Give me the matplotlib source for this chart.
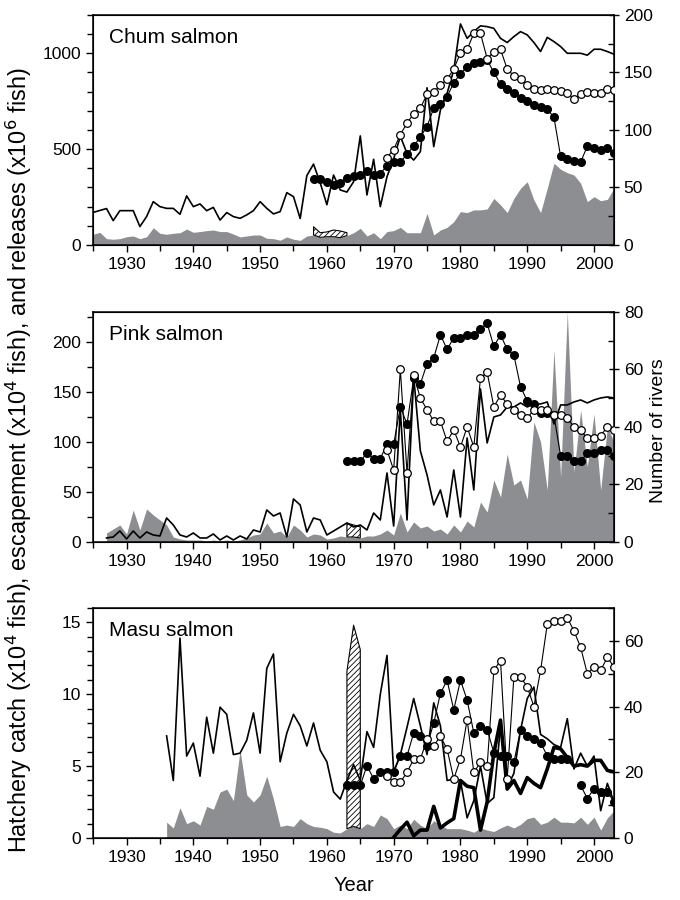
import numpy as np
import matplotlib.pyplot as plt
from matplotlib.ticker import MultipleLocator
from matplotlib import font_manager

plt.rcParams['font.family'] = ['Liberation Sans', 'DejaVu Sans']
plt.rcParams['hatch.linewidth'] = 0.6

GRAY = '#8d8e91'

# ---------------- Chum salmon ----------------
chum_start = 1925
chum_releases = [170, 180, 190, 127, 179, 179, 179, 96, 148, 226,
                 200, 191, 191, 160, 256, 200, 214, 179, 196, 130,
                 169, 148, 139, 157, 179, 226, 191, 162, 174, 273,
                 252, 138, 362, 422, 324, 210, 365, 287, 276, 330,
                 569, 261, 447, 200, 356, 450, 567, 478, 443, 487,
                 820, 513, 704, 791, 913, 1153, 1078, 1113, 1143, 1139,
                 1130, 1078, 1056, 1087, 1113, 1096, 1056, 1009, 1083, 1061,
                 1035, 1000, 1000, 1000, 990, 1021, 1021, 1009, 995]
chum_escape = [56, 66, 33, 30, 33, 43, 47, 33, 43, 90,
               61, 56, 61, 64, 83, 66, 70, 75, 78, 70,
               70, 57, 42, 47, 52, 52, 35, 33, 25, 42,
               30, 24, 47, 52, 40, 43, 43, 38, 49, 64,
               87, 47, 64, 33, 70, 75, 92, 64, 64, 64,
               165, 52, 78, 92, 122, 174, 169, 183, 183, 188,
               243, 209, 169, 243, 296, 330, 235, 169, 296, 426,
               395, 377, 365, 322, 226, 252, 231, 238, 296]
chum_hatch_years = [1958, 1959, 1960, 1961, 1962, 1963]
chum_hatch_top = [95, 64, 68, 78, 73, 64]
chum_filled_start = 1958
chum_filled = [57, 57, 55, 52, 54, 58, 60, 61, 64, 61,
               62, 69, 72, 72, 79, 86, 94, 103, 119, 123,
               129, 141, 149, 155, 158, 159, 161, 150, 140, 136,
               132, 128, 125, 122, 120, 118, 111, 77, 75, 73,
               72, 86, 84, 83, 84, 80]
chum_open_start = 1969
chum_open = [76, 83, 96, 106, 114, 119, 131, 133, 139, 144,
             153, 167, 170, 184, 184, 162, 168, 170, 153, 147,
             144, 139, 136, 135, 136, 135, 134, 132, 127, 131,
             133, 132, 132, 136, 135]

# ---------------- Pink salmon ----------------
pink_start = 1927
pink_releases = [4, 5, 11, 3, 11, 4, 10, 7, 6, 24,
                 17, 7, 5, 9, 4, 4, 8, 2, 6, 2,
                 6, 3, 12, 10, 32, 26, 29, 5, 43, 37,
                 10, 24, 22, 7, 11, 15, 19, 15, 17, 12,
                 29, 22, 69, 16, 132, 22, 165, 91, 67, 37,
                 52, 25, 72, 25, 104, 52, 153, 99, 125, 127,
                 135, 135, 139, 135, 138, 138, 140, 118, 137, 137,
                 140, 142, 139, 142, 144, 145, 144]
pink_escape = [9, 13, 17, 8, 32, 12, 33, 27, 22, 17,
               5, 3, 2, 2, 2, 1, 2, 1, 2, 1,
               2, 4, 7, 8, 19, 9, 11, 5, 17, 12,
               5, 8, 7, 3, 4, 6, 5, 5, 4, 6,
               6, 8, 12, 7, 29, 10, 20, 14, 16, 11,
               13, 8, 17, 10, 21, 15, 40, 30, 62, 45,
               88, 57, 62, 43, 120, 100, 52, 192, 65, 230,
               70, 132, 75, 128, 52, 115, 100]
pink_hatch_years = [1963, 1964, 1965]
pink_hatch_top = [19, 17, 15]
pink_filled_start = 1963
pink_filled = [28, 28, 28, 31, 29, 29, 34, 34, 47, 41,
               57, 55, 62, 64, 72, 67, 71, 71, 72, 72,
               74, 76, 68, 72, 67, 65, 54, 49, 48, 45,
               45, 44, 30, 30, 28, 28, 31, 31, 32, 32,
               30]
pink_open_start = 1969
pink_open = [32, 25, 60, 24, 58, 50, 46, 42, 42, 35,
             39, 33, 40, 33, 57, 59, 47, 51, 48, 46,
             44, 43, 46, 46, 46, 44, 44, 43, 40, 39,
             36, 36, 37, 40, 39]

# ---------------- Masu salmon ----------------
masu_start = 1936
masu_releases = [7.1, 4.0, 13.9, 5.7, 6.6, 4.3, 8.4, 5.9, 9.1, 8.6,
                 5.8, 5.9, 6.8, 8.7, 5.9, 11.8, 12.8, 5.3, 7.3, 8.6,
                 7.8, 6.4, 8.0, 6.1, 5.3, 3.2, 2.7, 4.0, 5.1, 4.0,
                 7.4, 6.3, 10.0, 12.7, 4.6, 5.8, 7.7, 9.7, 7.8, 5.8,
                 9.4, 7.8, 4.0, 4.1, 4.0, 1.4, 2.6, 5.0, 2.4, 2.8,
                 7.8, 3.5, 4.5, 7.5, 9.7, 10.5, 7.2, 6.9, 6.5, 6.3,
                 8.3, 4.8, 5.9, 5.0, 5.7, 1.9, 3.8, 2.5]
masu_escape = [1.1, 0.7, 2.1, 1.0, 1.2, 0.9, 2.2, 2.0, 3.2, 3.4,
               2.6, 6.1, 3.0, 2.5, 3.0, 4.3, 2.7, 0.8, 0.9, 0.8,
               1.35, 1.0, 0.8, 0.75, 0.65, 0.4, 0.35, 0.65, 0.8, 0.65,
               1.0, 0.8, 1.6, 1.35, 0.65, 0.9, 0.65, 1.3, 0.9, 0.65,
               1.2, 0.9, 0.65, 0.65, 0.65, 0.55, 0.4, 0.7, 0.55, 0.45,
               0.7, 0.9, 0.7, 0.95, 1.35, 1.45, 0.95, 1.1, 1.45, 1.1,
               1.1, 1.05, 1.45, 0.95, 1.45, 0.55, 1.4, 1.9]
masu_catch_start = 1970
masu_catch = [0.05, 0.6, 1.1, 0.15, 0.55, 0.55, 2.2, 0.7, 1.05, 1.35,
              4.0, 3.6, 3.5, 0.55, 2.5, 5.9, 8.2, 3.4, 4.0, 3.1,
              4.2, 3.8, 3.5, 4.8, 6.3, 6.2, 5.6, 5.0, 5.1, 5.0,
              5.4, 5.4, 4.7, 4.6]
masu_hatch_years = [1963, 1964, 1965]
masu_hatch_top = [11.6, 14.8, 13.1]
masu_filled_start = 1963
masu_filled = [16, 16, 16, 22, 18, 20, 20, 20, 25, 25,
               32, 31, 28, 35, 44, 48, 39, 48, 42, 32,
               34, 33, 26, 25, 25, 23, 33, 31, 30, 29,
               25, 24, 24, 24, np.nan, 16, 12, 15, 14, 14,
               11]
masu_open_start = 1969
masu_open = [19, 17, 17, 20, 24, 24, 30, 28, 31, 27,
             18, 24, 36, 20, 23, 22, 51, 54, 18, 49,
             49, 46, 40, 51, 65, 66, 66, 67, 63, 58,
             50, 52, 51, 55, 52]


def yrs(start, vals):
    return np.arange(start, start + len(vals))


def draw_panel(ax, name, start, releases, escape, hatch_years, hatch_top,
               f_start, filled, o_start, opn, ylim_l, ylim_r,
               l_major, l_minor, r_major, r_minor, catch=None, c_start=None):
    x = yrs(start, releases)
    esc = np.array(escape, dtype=float)
    ax.fill_between(x, 0, esc, color=GRAY, lw=0, zorder=1)
    base = [esc[y - start] for y in hatch_years]
    ax.fill_between(hatch_years, base, hatch_top, facecolor='white',
                    edgecolor='black', hatch='//////', lw=0.8, zorder=2)
    ax.plot(x, releases, color='black', lw=1.2, zorder=3)
    if catch is not None:
        ax.plot(yrs(c_start, catch), catch, color='black', lw=2.6, zorder=4)

    ax.set_xlim(1925, 2003)
    ax.set_ylim(*ylim_l)
    ax.xaxis.set_major_locator(MultipleLocator(10))
    ax.xaxis.set_minor_locator(MultipleLocator(5))
    ax.yaxis.set_major_locator(MultipleLocator(l_major))
    ax.yaxis.set_minor_locator(MultipleLocator(l_minor))
    ax.tick_params(which='both', direction='out', labelsize=12.5, width=1)
    ax.tick_params(which='major', length=5)
    ax.tick_params(which='minor', length=4)
    for s in ax.spines.values():
        s.set_linewidth(1.1)
    ax.text(0.03, 0.9, name, transform=ax.transAxes, fontsize=15, va='center')

    ax2 = ax.twinx()
    ax2.plot(yrs(f_start, filled), filled, color='black', lw=0.8,
             marker='o', ms=5.5, mfc='black', mec='black', zorder=5)
    ax2.plot(yrs(o_start, opn), opn, color='black', lw=0.8,
             marker='o', ms=5.5, mfc='white', mec='black', mew=0.9, zorder=6)
    ax2.set_ylim(*ylim_r)
    ax2.yaxis.set_major_locator(MultipleLocator(r_major))
    ax2.yaxis.set_minor_locator(MultipleLocator(r_minor))
    ax2.tick_params(which='both', labelsize=12.5, width=1)
    ax2.tick_params(which='major', direction='inout', length=7)
    ax2.tick_params(which='minor', direction='in', length=4)
    return ax2


fig = plt.figure(figsize=(6.8, 9), dpi=100)
ax_top = fig.add_axes([0.137, 0.7278, 0.766, 0.2556])
ax_mid = fig.add_axes([0.137, 0.3978, 0.766, 0.2556])
ax_bot = fig.add_axes([0.137, 0.0689, 0.766, 0.2556])

draw_panel(ax_top, 'Chum salmon', chum_start, chum_releases, chum_escape,
           chum_hatch_years, chum_hatch_top, chum_filled_start, chum_filled,
           chum_open_start, chum_open, (0, 1200), (0, 200), 500, 100, 50, 25)
draw_panel(ax_mid, 'Pink salmon', pink_start, pink_releases, pink_escape,
           pink_hatch_years, pink_hatch_top, pink_filled_start, pink_filled,
           pink_open_start, pink_open, (0, 230), (0, 80), 50, 25, 20, 10)
draw_panel(ax_bot, 'Masu salmon', masu_start, masu_releases, masu_escape,
           masu_hatch_years, masu_hatch_top, masu_filled_start, masu_filled,
           masu_open_start, masu_open, (0, 16), (0, 70), 5, 1, 20, 10,
           catch=masu_catch, c_start=masu_catch_start)

ax_bot.set_xlabel('Year', fontsize=14.5, labelpad=8)

# 左侧长标签用窄体字；没有窄体时退回普通字体
names = {f.name for f in font_manager.fontManager.ttflist}
if 'Liberation Sans Narrow' in names:
    lab_family, lab_size = ['Liberation Sans Narrow', 'DejaVu Sans'], 18
else:
    lab_family, lab_size = ['Liberation Sans', 'DejaVu Sans'], 16.8
fig.text(0.028, 0.488,
         'Hatchery catch (x10$^4$ fish), escapement (x10$^4$ fish), and releases (x10$^6$ fish)',
         rotation=90, ha='center', va='center', fontsize=lab_size, family=lab_family)
fig.text(0.968, 0.522, 'Number of rivers', rotation=90, ha='center',
         va='center', fontsize=14)

fig.savefig('out.png', dpi=100)
